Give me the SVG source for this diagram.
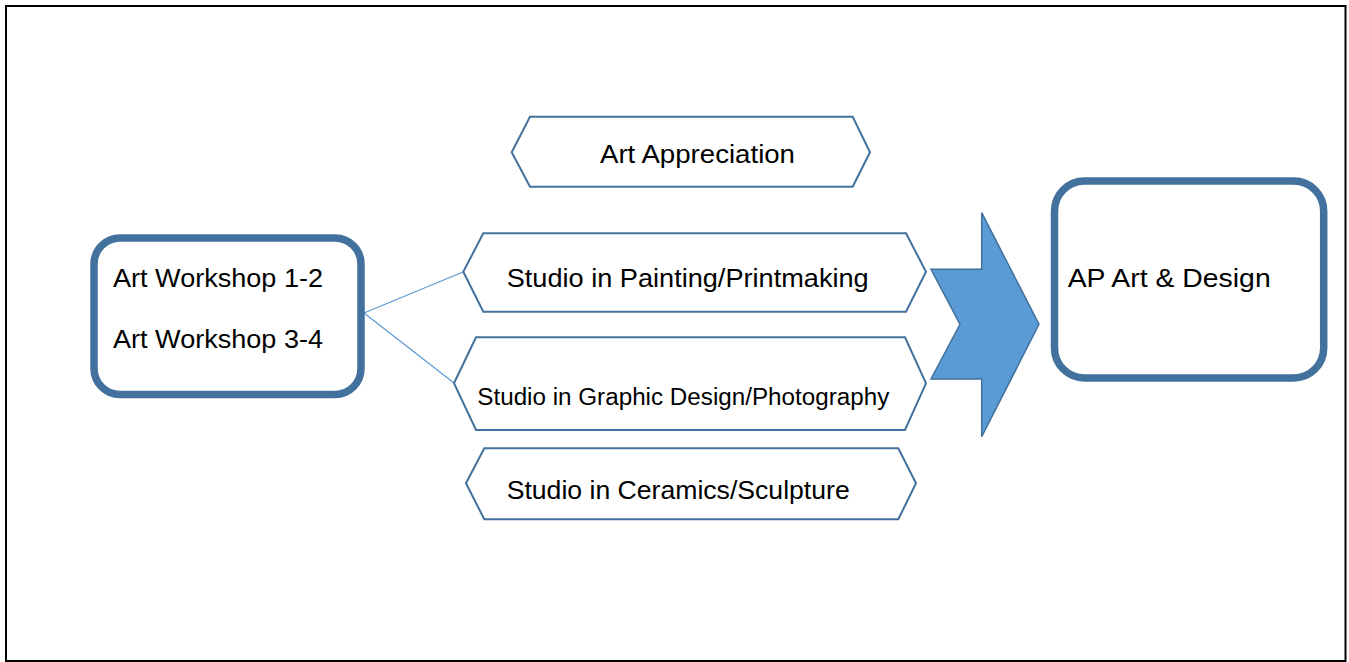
<svg xmlns="http://www.w3.org/2000/svg" width="1349" height="662" viewBox="0 0 1349 662">
<style>
.frame{fill:#fff;stroke:#000;stroke-width:2}
.box{fill:#fff;stroke:#41719c;stroke-width:7.5}
.hex{fill:#fff;stroke:#41719c;stroke-width:2}
.arrow{fill:#5b9bd5;stroke:#41719c;stroke-width:1.5}
.conn{stroke:#5b9bd5;stroke-width:1.2;fill:none}
text{font-family:"Liberation Sans",Arial,sans-serif;fill:#000;font-size:26.5px}
.sm{font-size:23.5px}
</style>
<rect class="frame" x="6" y="6" width="1339.5" height="655"/>
<g id="connectors">
<line class="conn" x1="364" y1="313" x2="463" y2="272"/>
<line class="conn" x1="364" y1="313" x2="454" y2="383"/>
</g>
<g id="workshop">
<rect class="box" x="94" y="238" width="267" height="156.5" rx="26"/>
<text x="113" y="287" textLength="210" lengthAdjust="spacingAndGlyphs">Art Workshop 1-2</text>
<text x="113" y="348" textLength="210" lengthAdjust="spacingAndGlyphs">Art Workshop 3-4</text>
</g>
<g id="appreciation">
<polygon class="hex" points="511.7,152.3 530,116.7 852.7,116.7 870,152.3 852.7,186.7 530,186.7"/>
<text x="600" y="163.3" textLength="195" lengthAdjust="spacingAndGlyphs">Art Appreciation</text>
</g>
<g id="painting">
<polygon class="hex" points="463.3,271.7 483.3,233.3 906,233.3 926,271.7 906,311.7 483.3,311.7"/>
<text x="506.7" y="286.7" textLength="362" lengthAdjust="spacingAndGlyphs">Studio in Painting/Printmaking</text>
</g>
<g id="graphic">
<polygon class="hex" points="454,383.3 476,337.3 905,337.3 926,383.3 905,430 476,430"/>
<text class="sm" x="477.3" y="405" textLength="412" lengthAdjust="spacingAndGlyphs">Studio in Graphic Design/Photography</text>
</g>
<g id="ceramics">
<polygon class="hex" points="466,483.3 484.3,448.3 898.3,448.3 916,483.3 898.3,519.3 484.3,519.3"/>
<text x="506.7" y="499" textLength="343" lengthAdjust="spacingAndGlyphs">Studio in Ceramics/Sculpture</text>
</g>
<g id="big-arrow">
<polygon class="arrow" points="931,269.3 981.7,269.3 981.7,212.7 1039,324.3 981.7,436.7 981.7,379 931,379 960,324.3"/>
</g>
<g id="ap">
<rect class="box" x="1054.5" y="181" width="269.2" height="197" rx="30"/>
<text x="1067.7" y="286.7" textLength="203" lengthAdjust="spacingAndGlyphs">AP Art &amp; Design</text>
</g>
</svg>
